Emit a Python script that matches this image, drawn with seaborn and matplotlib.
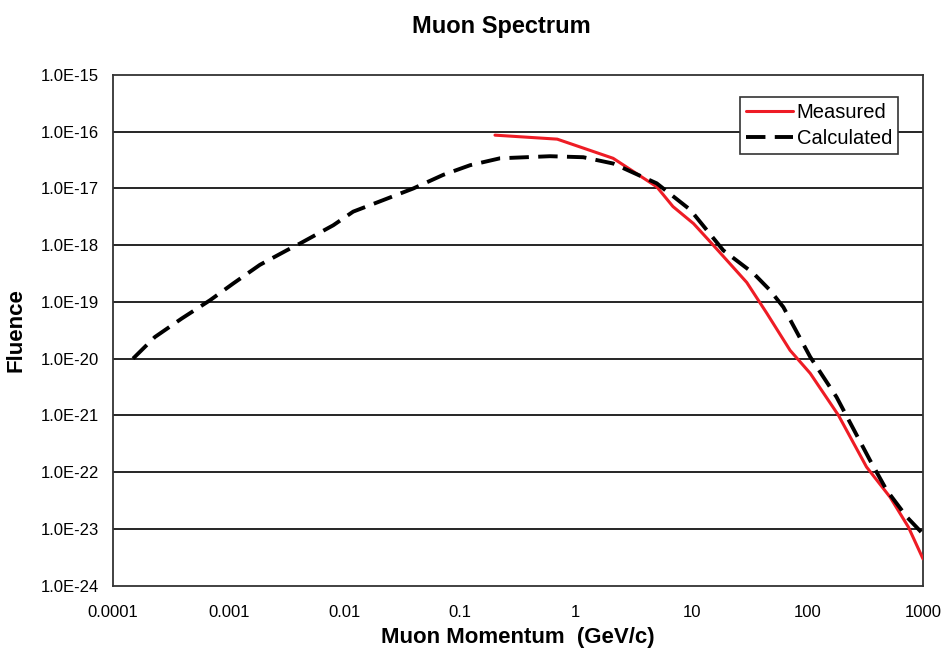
import numpy as np
import pandas as pd
import matplotlib
matplotlib.use("Agg")
import matplotlib.pyplot as plt
import seaborn as sns
from matplotlib.ticker import FixedLocator, FuncFormatter, NullLocator

# Measured spectrum (momentum GeV/c, fluence)
meas_p = [0.2, 0.69, 2.1, 5.0, 6.9, 10.4, 15.4, 30.0, 44.7, 71, 106, 148, 186, 325, 520, 748, 1000]
meas_f = [8.7e-17, 7.4e-17, 3.4e-17, 1.07e-17, 4.8e-18, 2.4e-18, 1.0e-18, 2.2e-19, 6.3e-20, 1.4e-20, 5.5e-21, 2.0e-21, 1.0e-21, 1.23e-22, 3.6e-23, 1.07e-23, 2.95e-24]

# Calculated spectrum
calc_p = [1.49e-4, 2.3e-4, 3.93e-4, 6.9e-4, 1.09e-3, 1.86e-3, 3.17e-3, 4.13e-3, 8.0e-3, 0.0119, 0.0215, 0.0394, 0.0716, 0.122, 0.221, 0.598, 1.16, 2.1, 5.0, 9.75, 18.8, 34.2, 47.4, 62.1, 106, 179, 348, 485, 724, 1000]
calc_f = [1.0e-20, 2.4e-20, 5.1e-20, 1.07e-19, 2.1e-19, 4.5e-19, 8.1e-19, 1.07e-18, 2.24e-18, 3.9e-18, 6.2e-18, 1.0e-17, 1.74e-17, 2.57e-17, 3.4e-17, 3.7e-17, 3.55e-17, 2.75e-17, 1.23e-17, 4.2e-18, 8.1e-19, 3.2e-19, 1.62e-19, 8.1e-20, 1.07e-20, 2.1e-21, 1.62e-22, 4.8e-23, 1.62e-23, 8.1e-24]

x_ticks = [1e-4, 1e-3, 1e-2, 1e-1, 1, 10, 100, 1000]
x_tick_labels = ["0.0001", "0.001", "0.01", "0.1", "1", "10", "100", "1000"]
y_ticks = [10.0 ** e for e in range(-24, -14)]

sns.set_style("white")
plt.rcParams["font.family"] = ["Liberation Sans", "DejaVu Sans"]
plt.rcParams["text.color"] = "black"
plt.rcParams["axes.labelcolor"] = "black"

W, H = 948, 660
L, R, T, B = 113, 923, 75, 585.5
fig = plt.figure(figsize=(W / 100, H / 100), dpi=100)
ax = fig.add_axes([L / W, 1 - B / H, (R - L) / W, (B - T) / H])

df_m = pd.DataFrame({"p": meas_p, "f": meas_f})
df_c = pd.DataFrame({"p": calc_p, "f": calc_f})

sns.lineplot(data=df_m, x="p", y="f", ax=ax, color="#ee1c25", linewidth=2.2,
             label="Measured", sort=False, estimator=None, zorder=3)
sns.lineplot(data=df_c, x="p", y="f", ax=ax, color="black", linewidth=2.8,
             label="Calculated", sort=False, estimator=None, zorder=4)
ax.lines[-1].set_dashes([5, 2.4])

ax.set_xscale("log")
ax.set_yscale("log")
ax.set_xlim(1e-4, 1000)
ax.set_ylim(1e-24, 1e-15)

ax.xaxis.set_major_locator(FixedLocator(x_ticks))
ax.xaxis.set_major_formatter(FuncFormatter(lambda v, pos: x_tick_labels[pos] if pos is not None and pos < len(x_tick_labels) else ""))
ax.xaxis.set_minor_locator(NullLocator())
ax.yaxis.set_major_locator(FixedLocator(y_ticks))
ax.yaxis.set_major_formatter(FuncFormatter(lambda v, pos: "1.0E%d" % int(round(np.log10(v)))))
ax.yaxis.set_minor_locator(NullLocator())

for yv in y_ticks[1:-1]:
    ax.axhline(yv, color="black", linewidth=1.2, zorder=1)

for s in ax.spines.values():
    s.set_color("#333333")
    s.set_linewidth(1.3)

ax.tick_params(axis="both", which="major", direction="out", length=5, width=1.2,
               color="#333333", labelsize=12, labelcolor="black")
ax.tick_params(axis="x", pad=9)
ax.tick_params(axis="y", pad=5)

ax.set_xlabel("Muon Momentum  (GeV/c)", fontsize=16, fontweight="bold", labelpad=5, color="black")
ax.set_ylabel("Fluence", fontsize=16, fontweight="bold", labelpad=10, color="black")
fig.text(501 / W, 1 - 27 / H, "Muon Spectrum", ha="center", va="center",
         fontsize=17, fontweight="bold", color="black")

leg = ax.legend(loc="upper right", bbox_to_anchor=((898 - L) / (R - L), (B - 97) / (B - T)),
                frameon=True, fancybox=False, fontsize=14.5, handlelength=2.3,
                handletextpad=0.2, borderpad=0.3, labelspacing=0.35, borderaxespad=0)
leg.get_frame().set_edgecolor("#333333")
leg.get_frame().set_linewidth(1.2)
leg.get_frame().set_alpha(1)
for t in leg.get_texts():
    t.set_color("black")

fig.savefig("out.png", dpi=100)
